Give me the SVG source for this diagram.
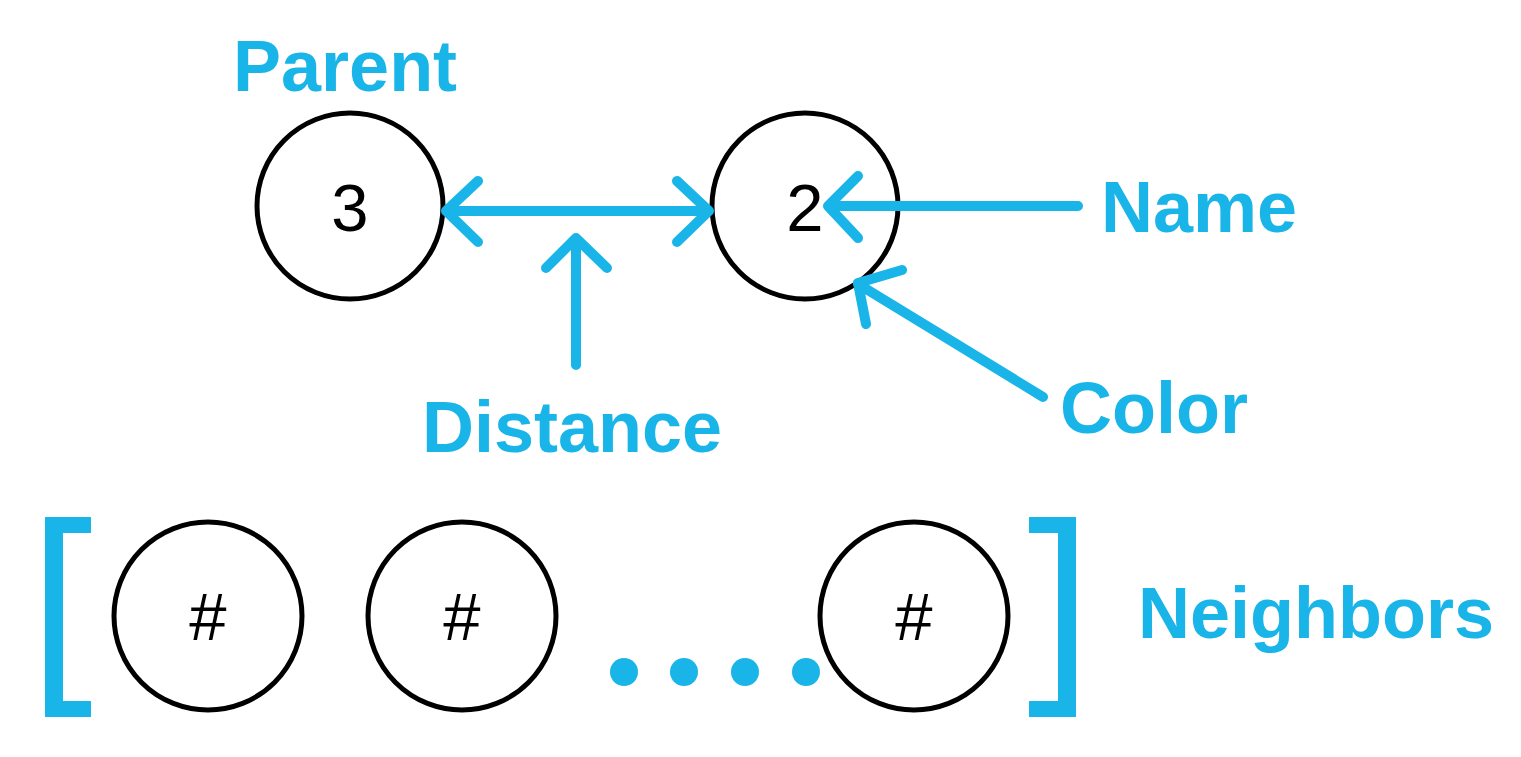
<svg xmlns="http://www.w3.org/2000/svg" width="1521" height="757" viewBox="0 0 1521 757">
<style>
.node{fill:#fff;stroke:#000;stroke-width:5}
.num{font-family:"Liberation Sans",Arial,sans-serif;font-size:67px;fill:#000;text-anchor:middle}
.lbl{font-family:"Liberation Sans",Arial,sans-serif;font-size:72px;font-weight:bold;fill:#1AB5E8}
.conn{fill:none;stroke:#1AB5E8;stroke-width:10;stroke-linecap:round;stroke-linejoin:round}
.blue{fill:#1AB5E8}
</style>
<rect width="1521" height="757" fill="#fff"/>
<g id="node-parent">
<circle class="node" cx="350" cy="206" r="93"/>
<text class="num" x="350" y="231">3</text>
</g>
<g id="node-current">
<circle class="node" cx="805" cy="206" r="93"/>
<text class="num" x="805" y="231">2</text>
</g>
<g id="neighbor-1">
<circle class="node" cx="208" cy="616" r="94"/>
<text class="num" x="208" y="640">#</text>
</g>
<g id="neighbor-2">
<circle class="node" cx="462" cy="616" r="94"/>
<text class="num" x="462" y="640">#</text>
</g>
<g id="neighbor-n">
<circle class="node" cx="914" cy="616" r="94"/>
<text class="num" x="914" y="640">#</text>
</g>
<g id="connectors">
<path class="conn" d="M446,211 L709,211 M478,181 L446,211 L478,242 M677,181 L709,211 L677,242"/>
<path class="conn" d="M576,365 L576,240 M546,268 L576,238 L607,268"/>
<path class="conn" d="M1078,206 L828,206 M858,176 L828,206 L858,238"/>
<path class="conn" d="M1043,397 L858,284 M902,270 L858,283 L866,324"/>
</g>
<g id="brackets">
<path class="blue" d="M45,517 H91 V533 H63 V701 H91 V717 H45 Z"/>
<path class="blue" d="M1076,517 H1029 V533 H1058 V701 H1029 V717 H1076 Z"/>
</g>
<g id="dots">
<circle class="blue" cx="624" cy="672" r="14"/>
<circle class="blue" cx="684" cy="672" r="14"/>
<circle class="blue" cx="745" cy="672" r="14"/>
<circle class="blue" cx="806" cy="672" r="14"/>
</g>
<g id="labels">
<text class="lbl" x="233" y="91">Parent</text>
<text class="lbl" x="1101" y="232">Name</text>
<text class="lbl" x="422" y="452">Distance</text>
<text class="lbl" x="1060" y="433">Color</text>
<text class="lbl" x="1138" y="638">Neighbors</text>
</g>
</svg>
